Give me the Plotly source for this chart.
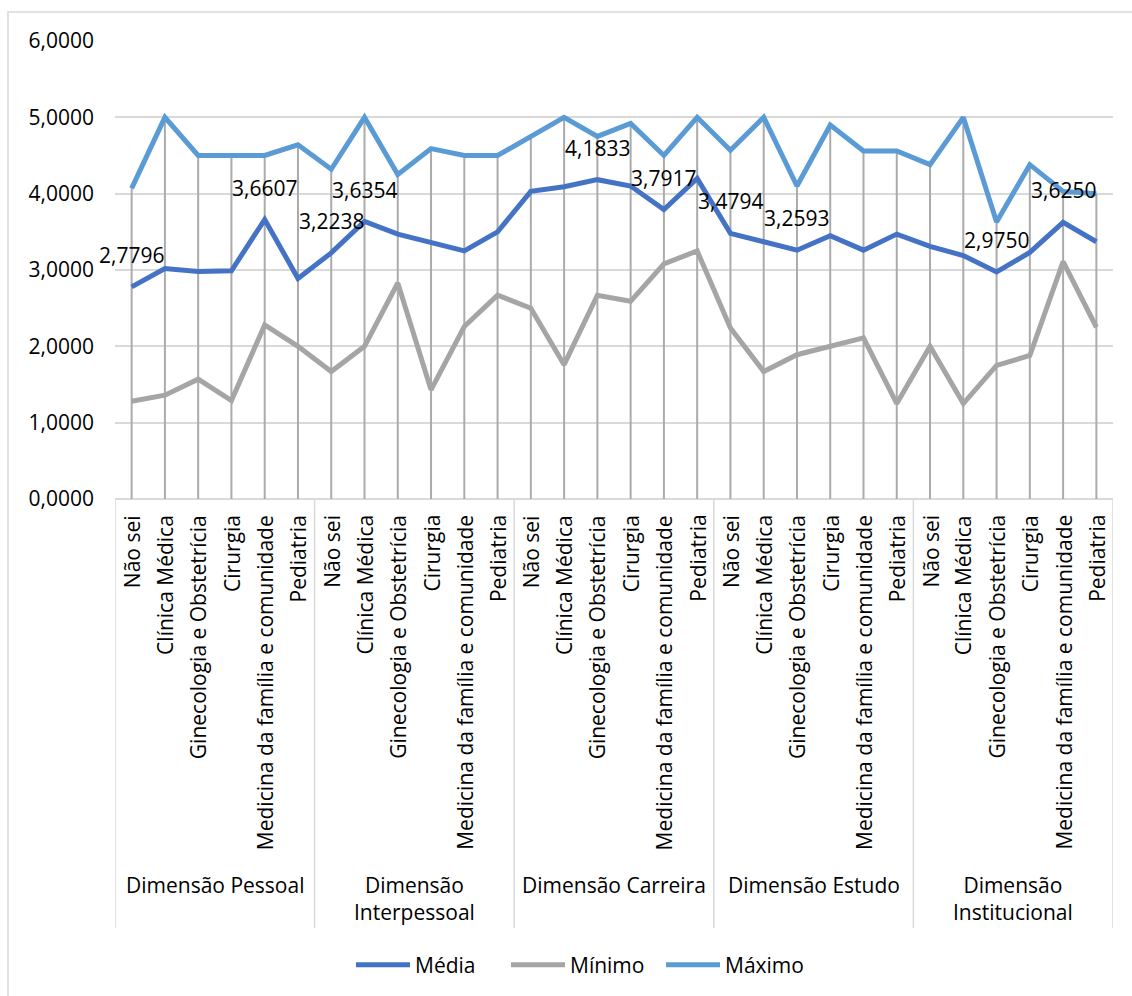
import plotly.graph_objects as go

# ---- data ----
groups = ["Dimensão Pessoal", "Dimensão Interpessoal", "Dimensão Carreira",
          "Dimensão Estudo", "Dimensão Institucional"]
specialties = ["Não sei", "Clínica Médica", "Ginecologia e Obstetrícia", "Cirurgia",
               "Medicina da família e comunidade", "Pediatria"]

media = [2.7796, 3.02, 2.98, 2.99, 3.6607, 2.89,
         3.2238, 3.6354, 3.47, 3.36, 3.25, 3.50,
         4.03, 4.09, 4.1833, 4.10, 3.7917, 4.20,
         3.4794, 3.37, 3.2593, 3.45, 3.26, 3.47,
         3.31, 3.19, 2.9750, 3.23, 3.6250, 3.37]
minimo = [1.28, 1.36, 1.57, 1.29, 2.28, 2.00,
          1.67, 2.00, 2.83, 1.43, 2.26, 2.67,
          2.50, 1.76, 2.67, 2.59, 3.08, 3.25,
          2.24, 1.67, 1.89, 2.00, 2.11, 1.25,
          2.00, 1.25, 1.75, 1.88, 3.11, 2.25]
maximo = [4.07, 5.00, 4.50, 4.50, 4.50, 4.64,
          4.32, 5.00, 4.25, 4.59, 4.50, 4.50,
          4.75, 5.00, 4.75, 4.92, 4.50, 5.00,
          4.57, 5.00, 4.10, 4.90, 4.56, 4.56,
          4.38, 5.00, 3.63, 4.38, 4.03, 4.00]
labeled_points = [0, 4, 6, 7, 14, 16, 18, 20, 26, 28]

# ---- layout constants ----
W, H = 1132, 996
L, R, T, B = 115, 19, 41, 497
plot_h = H - T - B
FONT = "Open Sans"
FS = 21

def py(pix):
    return (H - B - pix) / plot_h

n = len(media)
xs = list(range(n))

fig = go.Figure()

# drop lines
dx, dy = [], []
for i in xs:
    top = max(media[i], minimo[i], maximo[i])
    dx += [i, i, None]
    dy += [0, top, None]
fig.add_trace(go.Scatter(x=dx, y=dy, mode="lines", line=dict(color="#ABABAB", width=2),
                         showlegend=False, hoverinfo="skip"))

fig.add_trace(go.Scatter(x=xs, y=media, name="Média", mode="lines",
                         line=dict(color="#4472C4", width=5)))
fig.add_trace(go.Scatter(x=xs, y=minimo, name="Mínimo", mode="lines",
                         line=dict(color="#A5A5A5", width=5)))
fig.add_trace(go.Scatter(x=xs, y=maximo, name="Máximo", mode="lines",
                         line=dict(color="#5B9BD5", width=5)))

annotations = []
# data labels
for i in labeled_points:
    annotations.append(dict(x=i, y=media[i], xref="x", yref="y", showarrow=False,
                            text=f"{media[i]:.4f}".replace(".", ","), yshift=32,
                            font=dict(family=FONT, size=FS, color="black")))
# category labels
for g in range(len(groups)):
    for j, s in enumerate(specialties):
        annotations.append(dict(x=g * len(specialties) + j, y=0, xref="x", yref="paper",
                                text=s, textangle=-90, showarrow=False,
                                xanchor="center", yanchor="top", yshift=-14,
                                font=dict(family=FONT, size=FS, color="black")))
    gname = groups[g]
    if len(gname) > 18:
        gname = gname.replace(" ", "<br>", 1)
    annotations.append(dict(x=g * len(specialties) + (len(specialties) - 1) / 2, y=py(869),
                            xref="x", yref="paper", text=gname, showarrow=False,
                            xanchor="center", yanchor="top",
                            font=dict(family=FONT, size=FS, color="black")))

shapes = []
for g in range(len(groups) + 1):
    shapes.append(dict(type="line", xref="x", yref="paper",
                       x0=g * len(specialties) - 0.5, x1=g * len(specialties) - 0.5,
                       y0=0, y1=py(928), line=dict(color="#D9D9D9", width=1.5)))
# chart border
shapes.append(dict(type="rect", xref="paper", yref="paper",
                   x0=(8 - L) / (W - L - R), x1=1.2, y0=-1.3, y1=py(12),
                   line=dict(color="#D9D9D9", width=1.5)))

fig.update_layout(
    width=W, height=H,
    margin=dict(l=L, r=R, t=T, b=B),
    paper_bgcolor="white", plot_bgcolor="white",
    separators=",.",
    font=dict(family=FONT, size=FS, color="black"),
    xaxis=dict(range=[-0.5, n - 0.5], showticklabels=False, showgrid=False,
               zeroline=False, showline=False, ticks=""),
    yaxis=dict(range=[0, 6], dtick=1, tick0=0, tickformat=".4f", showgrid=True,
               gridcolor="#D9D9D9", gridwidth=1.5, zeroline=True, zerolinecolor="#D9D9D9",
               zerolinewidth=1.5, showline=False, ticks="", ticklabelstandoff=20,
               tickfont=dict(family=FONT, size=FS, color="black")),
    legend=dict(orientation="h", xref="container", yref="container",
                x=(357 - 6) / W, y=1 - 965 / H, xanchor="left", yanchor="middle",
                itemwidth=54, entrywidth=86, tracegroupgap=0,
                font=dict(family=FONT, size=FS, color="black")),
    annotations=annotations,
    shapes=shapes,
)

fig.write_html("out.html")
